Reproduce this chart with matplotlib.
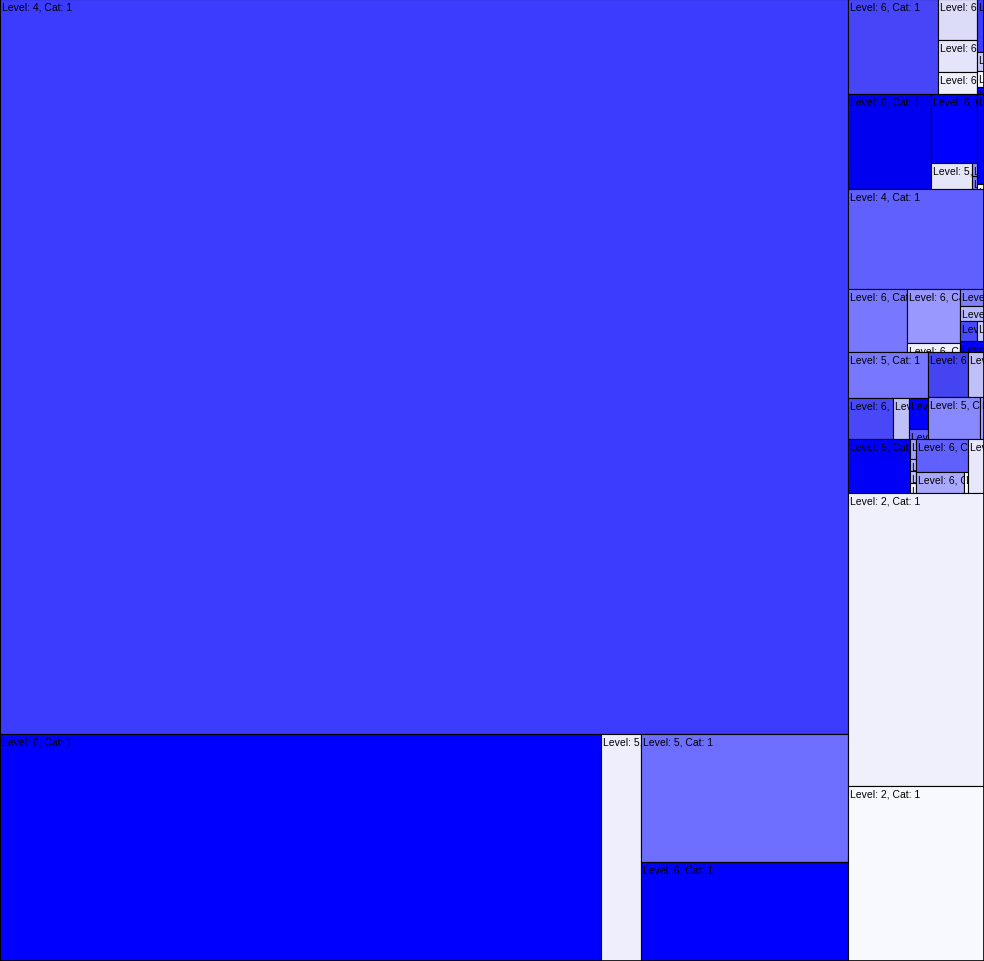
import matplotlib
matplotlib.use("Agg")
import matplotlib.pyplot as plt
from matplotlib.patches import Rectangle
from matplotlib.transforms import Bbox, TransformedBbox

# ---- data: leaf sizes (area units), levels, categories, colours ----
leaf_values = [623280, 136427, 9080, 26496, 20493,
               8550, 1599, 1248, 858, 371, 133, 112, 49,
               7885, 3174, 1066, 65, 65, 630, 35,
               13600,
               3717, 2862, 477, 408, 360, 340, 140, 264,
               3680, 1845, 656, 589, 190, 1800, 720, 2184, 168,
               3348, 120, 72, 72, 60, 1716, 1008, 84, 864,
               39848, 23800]
leaf_levels = [4, 6, 5, 5, 6,
               6, 6, 6, 6, 6, 6, 6, 6,
               6, 6, 5, 6, 6, 6, 6,
               4,
               6, 6, 6, 6, 6, 6, 6, 6,
               5, 6, 6, 6, 6, 6, 6, 5, 6,
               6, 6, 6, 6, 6, 6, 6, 6, 6,
               2, 2]
leaf_cats = [1] * len(leaf_values)
leaf_colors = ["#3c3cff", "#0000ff", "#eeeefc", "#6e6eff", "#0000ff",
               "#4646f8", "#dcdcf8", "#e4e4fa", "#eeeefc", "#3c3cff", "#c8c8f8", "#f8f8ff", "#0000ff",
               "#0000f0", "#0000ff", "#e6e6fa", "#9090ff", "#8080ff", "#0000ff", "#ffffff",
               "#6060ff",
               "#7878ff", "#9898ff", "#f0f0fc", "#8080ff", "#b8b8ff", "#4848ff", "#c8c8ff", "#0000ff",
               "#7878ff", "#4848f8", "#c0c0f8", "#0000ff", "#6060ff", "#4444f0", "#c0c0f8", "#8888ff", "#a0a0ff",
               "#0000f8", "#a0a0ff", "#b0b0ff", "#c0c0ff", "#f0f0ff", "#6060ff", "#a8a8ff", "#ffffff", "#e8e8fc",
               "#f0f0fc", "#f8f8ff"]

# slice-and-dice nesting of leaf indices ('h' = split along x, 'v' = split along y)
tree = ('h', [
    ('v', [0, ('h', [1, 2, ('v', [3, 4])])]),
    ('v', [
        ('h', [5, ('v', [6, 7, 8]), ('v', [9, 10, 11, 12])]),
        ('h', [13, ('v', [14, ('h', [15, ('v', [16, 17])])]), ('v', [18, 19])]),
        20,
        ('h', [21, ('v', [22, 23]), ('v', [24, 25, ('h', [26, 27]), 28])]),
        ('h', [('v', [29, ('h', [30, 31, ('v', [32, 33])])]),
               ('v', [('h', [34, 35]), ('h', [36, 37])])]),
        ('h', [38, ('v', [39, 40, 41, 42]), ('v', [43, ('h', [44, 45])]), 46]),
        47,
        48,
    ]),
])

W, H = 984, 962


def total(node):
    if isinstance(node, int):
        return leaf_values[node]
    return sum(total(c) for c in node[1])


rects = {}


def layout(node, x, y, w, h):
    if isinstance(node, int):
        rects[node] = (x, y, w, h)
        return
    d, children = node
    s = total(node)
    pos = 0.0
    for c in children:
        frac = total(c) / s
        if d == 'h':
            layout(c, x + pos * w, y, frac * w, h)
        else:
            layout(c, x, y + pos * h, w, frac * h)
        pos += frac


layout(tree, 0, 0, W, H)

fig = plt.figure(figsize=(9.84, 9.62), dpi=100)
ax = fig.add_axes([0, 0, 1, 1])
ax.set_xlim(0, W)
ax.set_ylim(H, 0)
ax.axis('off')

for i, (x, y, w, h) in rects.items():
    r = Rectangle((x, y), w, h, facecolor=leaf_colors[i], edgecolor='black', linewidth=0.8)
    ax.add_patch(r)
    t = ax.text(x + 2, y + 2.5, f"Level: {leaf_levels[i]}, Cat: {leaf_cats[i]}",
                ha='left', va='top', fontsize=7.5, family='Liberation Sans', color='black')
    t.set_clip_on(True)
    t.set_clip_box(TransformedBbox(Bbox.from_bounds(x, y, w, h), ax.transData))

ax.add_patch(Rectangle((0, 0), W, H, fill=False, edgecolor='black', linewidth=1.2))

fig.savefig("out.png", dpi=100)
